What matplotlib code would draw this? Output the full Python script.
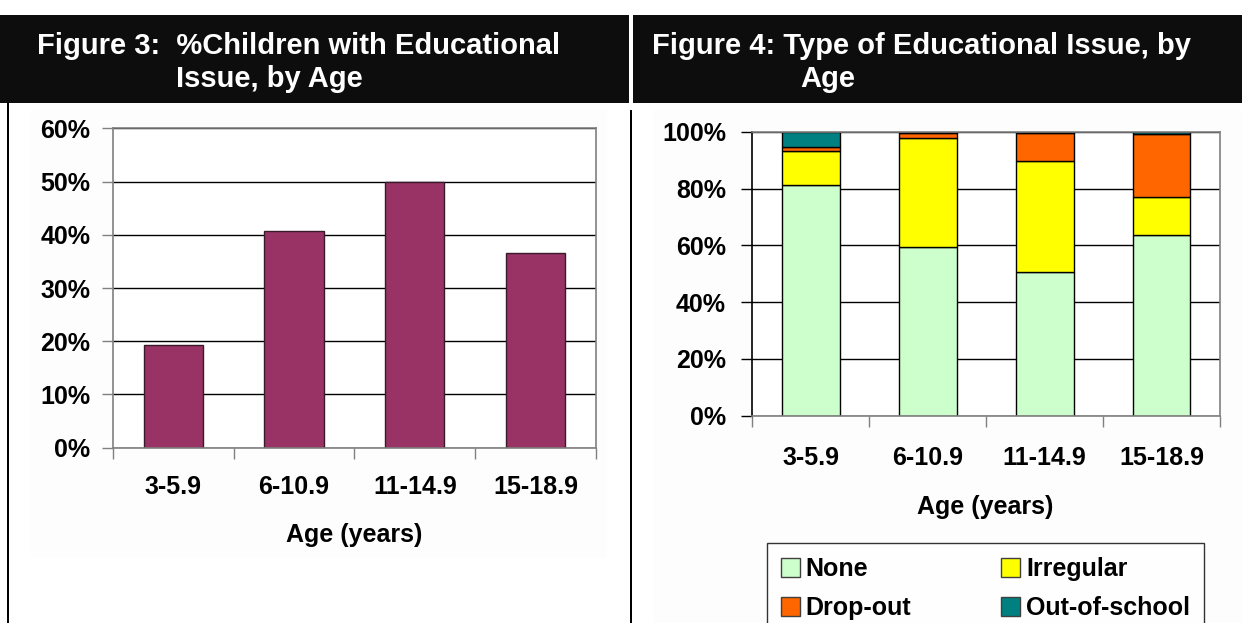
import matplotlib
matplotlib.use("Agg")
import matplotlib.pyplot as plt
from matplotlib.patches import Rectangle, Patch
from matplotlib.ticker import FixedLocator, PercentFormatter
import numpy as np

plt.rcParams['font.family'] = ['Liberation Sans', 'DejaVu Sans']
plt.rcParams['font.weight'] = 'bold'

# ---- data ----
age_groups = ["3-5.9", "6-10.9", "11-14.9", "15-18.9"]
pct_with_issue = [19.2, 40.7, 50.0, 36.5]

series_names = ["None", "Irregular", "Drop-out", "Out-of-school"]
none_vals = [81.2, 59.3, 50.6, 63.6]
irregular_vals = [12.1, 38.4, 39.2, 13.3]
dropout_vals = [1.2, 1.7, 9.8, 22.3]
outofschool_vals = [5.5, 0.5, 0.4, 0.8]

left_yticks = [0, 10, 20, 30, 40, 50, 60]
right_yticks = [0, 20, 40, 60, 80, 100]

title3_l1 = "Figure 3:  %Children with Educational"
title3_l2 = "Issue, by Age"
title4_l1 = "Figure 4: Type of Educational Issue, by"
title4_l2 = "Age"
xlabel = "Age (years)"

# ---- figure ----
W, H = 1242, 623
fig = plt.figure(figsize=(W / 100, H / 100), dpi=100)
fig.patch.set_facecolor("white")


def fx(px):
    return px / W


def fy(py):
    return 1 - py / H


# faint chart-area backgrounds
fig.add_artist(Rectangle((fx(30), fy(558)), fx(577), (448) / H, transform=fig.transFigure,
                         facecolor="#fdfdfd", edgecolor="none", zorder=0))
fig.add_artist(Rectangle((fx(653), fy(623)), fx(589), (513) / H, transform=fig.transFigure,
                         facecolor="#fdfdfd", edgecolor="none", zorder=0))

# header band
hdr_col = "#0d0d0d"
fig.add_artist(Rectangle((0, fy(103)), fx(629), 88 / H, transform=fig.transFigure,
                         facecolor=hdr_col, edgecolor="none", zorder=1))
fig.add_artist(Rectangle((fx(633), fy(103)), fx(W - 633), 88 / H, transform=fig.transFigure,
                         facecolor=hdr_col, edgecolor="none", zorder=1))
# vertical rules
fig.add_artist(Rectangle((fx(6.5), 0), fx(2.2), fy(103), transform=fig.transFigure,
                         facecolor="black", edgecolor="none", zorder=1))
fig.add_artist(Rectangle((fx(629.7), 0), fx(2.4), fy(110), transform=fig.transFigure,
                         facecolor="black", edgecolor="none", zorder=1))

tkw = dict(color="white", fontsize=21, fontweight="bold", ha="left", va="baseline", zorder=3)
fig.text(fx(37), fy(54), title3_l1, **tkw)
fig.text(fx(176), fy(87), title3_l2, **tkw)
fig.text(fx(652), fy(54), title4_l1, **tkw)
fig.text(fx(800), fy(87), title4_l2, **tkw)

spine_col = "#808080"
FS = 18


def style_axes(ax, yticks, ymax, ypad, xpad):
    ax.set_facecolor("white")
    ax.set_xlim(-0.5, 3.5)
    ax.set_ylim(0, ymax)
    ax.yaxis.set_major_locator(FixedLocator(yticks))
    ax.yaxis.set_major_formatter(PercentFormatter(decimals=0))
    ax.grid(axis="y", color="black", linewidth=1.0, zorder=0)
    ax.set_axisbelow(True)
    for s in ax.spines.values():
        s.set_color(spine_col)
        s.set_linewidth(1.2)
    ax.tick_params(axis="y", length=8, width=1, color=spine_col, pad=ypad, labelsize=FS)
    # boundary ticks (major, unlabeled) and centred labels (minor)
    ax.set_xticks(np.arange(-0.5, 4.0, 1.0))
    ax.set_xticklabels([])
    ax.set_xticks(np.arange(4), minor=True)
    ax.set_xticklabels(age_groups, minor=True)
    ax.tick_params(axis="x", which="major", length=8, width=1, color=spine_col)
    ax.tick_params(axis="x", which="minor", length=0, pad=xpad, labelsize=FS)
    for lbl in ax.get_yticklabels() + ax.get_xticklabels(minor=True):
        lbl.set_fontweight("bold")


# ---- Figure 3 ----
ax1 = fig.add_axes([fx(112.7), fy(447.7), fx(596 - 112.7), (447.7 - 128.3) / H])
style_axes(ax1, left_yticks, 60, 8, 20)
x = np.arange(len(age_groups))
ax1.bar(x, pct_with_issue, width=0.49, color="#993366", edgecolor="#3a1a2a", linewidth=1.0, zorder=2)
fig.text(fx(354), fy(535), xlabel, ha="center", va="center", fontsize=FS, fontweight="bold")

# ---- Figure 4 ----
ax2 = fig.add_axes([fx(752.3), fy(415.7), fx(1220 - 752.3), (415.7 - 131.7) / H])
style_axes(ax2, right_yticks, 100, 11, 22)
ax2.spines["left"].set_color("black")
ax2.tick_params(axis="y", color="black")
colors = ["#CCFFCC", "#FFFF00", "#FF6600", "#008080"]
bottom = np.zeros(len(age_groups))
for name, vals, c in zip(series_names,
                         [none_vals, irregular_vals, dropout_vals, outofschool_vals], colors):
    ax2.bar(x, vals, width=0.495, bottom=bottom, color=c, edgecolor="black", linewidth=1.0,
            zorder=2, label=name)
    bottom += np.array(vals)
fig.text(fx(985), fy(507), xlabel, ha="center", va="center", fontsize=FS, fontweight="bold")

# legend: row-wise order (None, Irregular / Drop-out, Out-of-school)
order = [0, 2, 1, 3]
handles = [Patch(facecolor=colors[i], edgecolor="#404040", linewidth=1.0) for i in order]
labels = [series_names[i] for i in order]
leg = fig.legend(handles, labels, loc="upper left", ncol=2,
                 bbox_to_anchor=(fx(767), fy(544), fx(1204 - 767), 0.001),
                 mode="expand", frameon=True, fancybox=False, edgecolor="black",
                 prop={"size": FS, "weight": "bold"}, handlelength=0.75, handleheight=0.75,
                 handletextpad=0.25, borderpad=0.55, labelspacing=0.6, columnspacing=1.0,
                 borderaxespad=0)
leg.get_frame().set_linewidth(1.0)

fig.savefig("out.png", dpi=100, facecolor="white")
